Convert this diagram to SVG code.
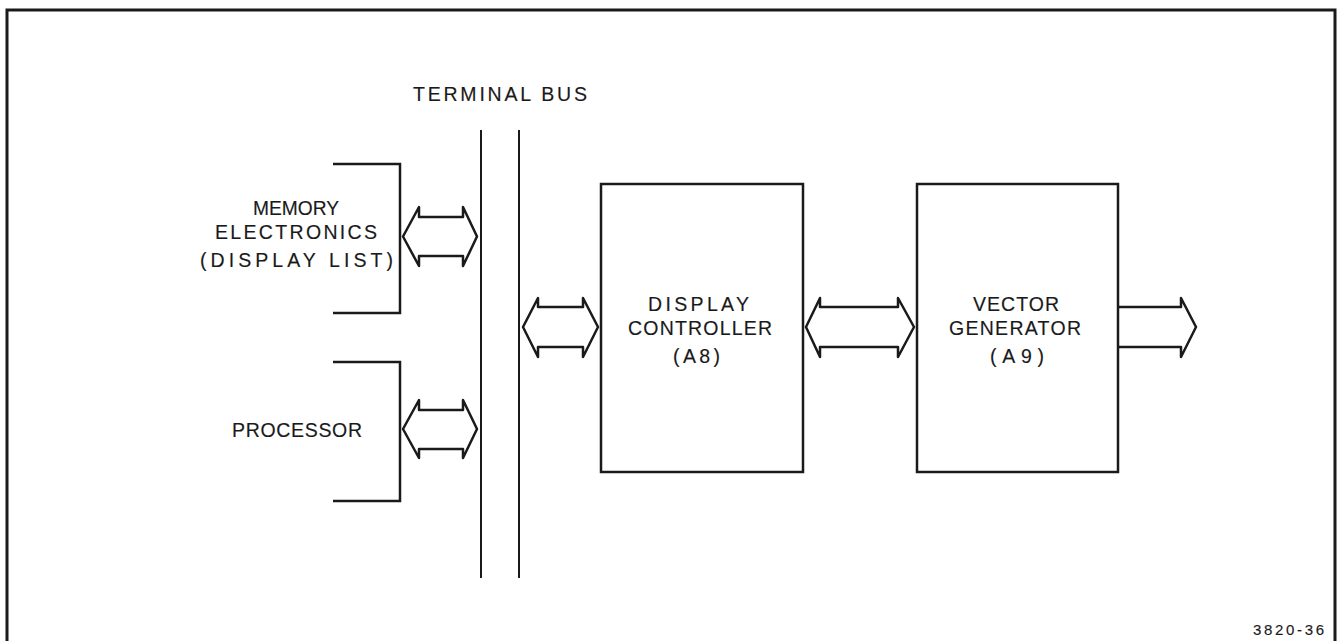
<svg xmlns="http://www.w3.org/2000/svg" width="1338" height="641" viewBox="0 0 1338 641">
<style>
.ln{fill:none;stroke:#1a1a1a;stroke-width:2.5;stroke-linejoin:miter}
.ar{fill:none;stroke:#1a1a1a;stroke-width:2.5;stroke-linejoin:round}
.t{font-family:"Liberation Sans","DejaVu Sans",sans-serif;font-size:19.5px;fill:#1a1a1a;stroke:#1a1a1a;stroke-width:0.15}
.s{font-family:"Liberation Sans","DejaVu Sans",sans-serif;font-size:15px;fill:#1a1a1a;stroke:#1a1a1a;stroke-width:0.15}
</style>
<rect width="1338" height="641" fill="#ffffff"/>
<path class="ln" style="stroke-width:3" d="M7,643 V10 H1335 V643"/>
<text class="t" x="413" y="101" textLength="174" lengthAdjust="spacing">TERMINAL BUS</text>
<g id="bus">
<line class="ln" style="stroke-width:2" x1="481" y1="130" x2="481" y2="578"/>
<line class="ln" style="stroke-width:2" x1="519" y1="130" x2="519" y2="578"/>
</g>
<g id="memory">
<path class="ln" d="M333,164 H400 V313 H333"/>
<text class="t" x="253" y="215" textLength="86" lengthAdjust="spacingAndGlyphs">MEMORY</text>
<text class="t" x="215" y="239" textLength="162" lengthAdjust="spacing">ELECTRONICS</text>
<text class="t" x="200" y="267" textLength="193" lengthAdjust="spacing">(DISPLAY LIST)</text>
</g>
<g id="processor">
<path class="ln" d="M333,362 H400 V501 H333"/>
<text class="t" x="232" y="437" textLength="130" lengthAdjust="spacing">PROCESSOR</text>
</g>
<g id="display-controller">
<rect class="ln" x="601" y="184" width="202" height="288"/>
<text class="t" x="648" y="311" textLength="101" lengthAdjust="spacing">DISPLAY</text>
<text class="t" x="628" y="335" textLength="144" lengthAdjust="spacing">CONTROLLER</text>
<text class="t" x="673" y="363" textLength="47" lengthAdjust="spacing">(A8)</text>
</g>
<g id="vector-generator">
<rect class="ln" x="917" y="184" width="201" height="288"/>
<text class="t" x="973" y="311" textLength="86" lengthAdjust="spacing">VECTOR</text>
<text class="t" x="949" y="335" textLength="132" lengthAdjust="spacing">GENERATOR</text>
<text class="t" x="990" y="363" textLength="54" lengthAdjust="spacing">(A9)</text>
</g>
<g id="connectors">
<path class="ar" d="M403,236.5 L419,207 V217 H463 V207 L477,236.5 L463,266 V256 H419 V266 Z"/>
<path class="ar" d="M403,429 L419,400 V410 H463 V400 L477,429 L463,458 V449 H419 V458 Z"/>
<path class="ar" d="M523,327 L538,298 V307 H583 V298 L598,327 L583,357 V347 H538 V357 Z"/>
<path class="ar" d="M806,327 L820,298 V307 H898 V298 L914,327 L898,357 V347 H820 V357 Z"/>
<path class="ar" d="M1118,307 H1181 V298 L1196,327 L1181,357 V347 H1118"/>
</g>
<text class="s" x="1253" y="635" textLength="71" lengthAdjust="spacing">3820-36</text>
</svg>
